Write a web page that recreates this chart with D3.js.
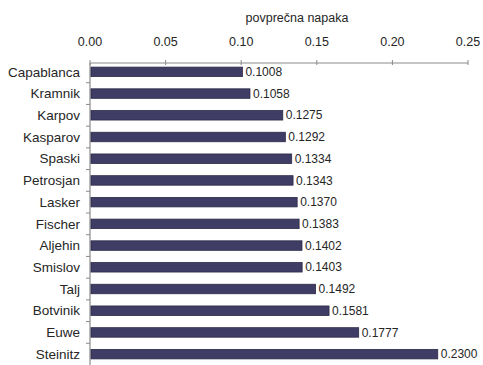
<!DOCTYPE html>
<html lang="sl">
<head>
    <meta charset="UTF-8" />
    <title>povprečna napaka</title>
    <script src="https://d3js.org/d3.v7.min.js"></script>
    <style>
        body {
            margin: 0;
            background: #fff;
            font-family: Arial, 'Liberation Sans', sans-serif;
        }
        text {
            fill: #262626;
        }
    </style>
</head>
<body>
    <script>
        // podatki
        const players = ['Capablanca', 'Kramnik', 'Karpov', 'Kasparov', 'Spaski', 'Petrosjan', 'Lasker',
            'Fischer', 'Aljehin', 'Smislov', 'Talj', 'Botvinik', 'Euwe', 'Steinitz'];
        const errors = [0.1008, 0.1058, 0.1275, 0.1292, 0.1334, 0.1343, 0.137,
            0.1383, 0.1402, 0.1403, 0.1492, 0.1581, 0.1777, 0.23];
        const xTicks = [0, 0.05, 0.1, 0.15, 0.2, 0.25];
        const axisTitle = 'povprečna napaka';

        const width = 483, height = 365;
        const svg = d3.select('body').append('svg').attr('width', width).attr('height', height);

        const x = d3.scaleLinear().domain([0, 0.25]).range([90, 468]);
        const y = d3.scaleBand().domain(players).range([61, 365]);
        const barH = 9.5;

        // zgornja os
        const topAxis = svg.append('g').attr('transform', 'translate(0,63)');
        topAxis.append('line').attr('x1', x(0)).attr('x2', x(0.25)).attr('stroke', '#8a8a8a').attr('stroke-width', 1.2);
        topAxis.selectAll('.tk').data(xTicks).enter().append('line')
            .attr('x1', (d) => x(d)).attr('x2', (d) => x(d))
            .attr('y1', -3).attr('y2', 2)
            .attr('stroke', '#8a8a8a');
        topAxis.selectAll('.tl').data(xTicks).enter().append('text')
            .attr('x', (d) => x(d)).attr('y', -17)
            .attr('text-anchor', 'middle')
            .attr('font-size', 12.5)
            .text((d) => d.toFixed(2));
        svg.append('text').attr('x', 297).attr('y', 22).attr('text-anchor', 'middle')
            .attr('font-size', 12.5).text(axisTitle);

        // leva os
        svg.append('line').attr('x1', x(0)).attr('x2', x(0)).attr('y1', 63).attr('y2', 365)
            .attr('stroke', '#8a8a8a').attr('stroke-width', 1.2);
        svg.selectAll('.lt').data(players.slice(1)).enter().append('line')
            .attr('x1', x(0) - 4).attr('x2', x(0))
            .attr('y1', (d) => y(d)).attr('y2', (d) => y(d))
            .attr('stroke', '#8a8a8a');

        // stolpci
        svg.selectAll('rect').data(players).enter().append('rect')
            .attr('x', x(0) + 1)
            .attr('y', (d) => y(d) + y.bandwidth() / 2 - barH / 2)
            .attr('width', (d, i) => x(errors[i]) - x(0) - 1)
            .attr('height', barH)
            .attr('fill', '#3f3d66')
            .attr('stroke', '#2b2a45')
            .attr('stroke-width', 0.8);

        svg.selectAll('.cat').data(players).enter().append('text')
            .attr('x', 80).attr('y', (d) => y(d) + y.bandwidth() / 2)
            .attr('dy', '0.35em').attr('text-anchor', 'end')
            .attr('font-size', 13.5)
            .text((d) => d);

        svg.selectAll('.val').data(players).enter().append('text')
            .attr('x', (d, i) => x(errors[i]) + 3).attr('y', (d) => y(d) + y.bandwidth() / 2)
            .attr('dy', '0.35em')
            .attr('font-size', 12)
            .text((d, i) => errors[i].toFixed(4));
    </script>
</body>
</html>
